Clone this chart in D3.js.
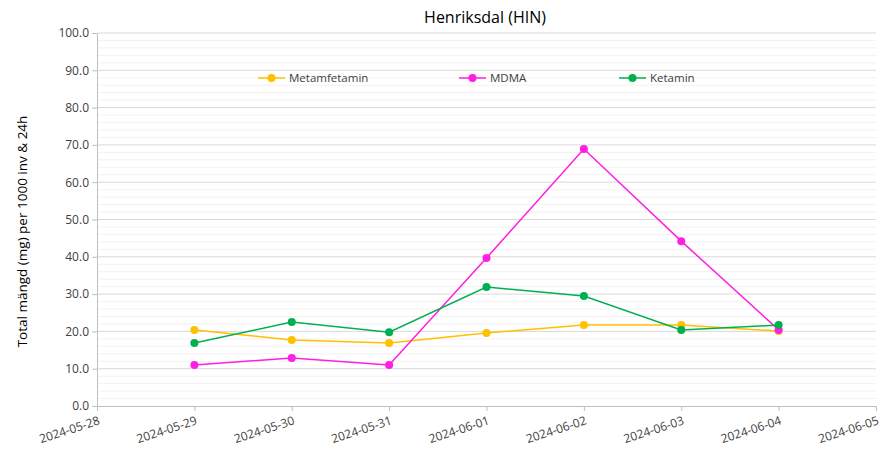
<!DOCTYPE html>
<html>
<head>
<meta charset="utf-8">
<script src="https://cdn.jsdelivr.net/npm/d3@7"></script>
<style>
  body { margin: 0; background: #fff; }
  svg { font-family: "Open Sans", Carlito, Lato, sans-serif; }
  .axis text { fill: #404040; font-size: 12px; font-family: "Open Sans", sans-serif; }
  .axis path, .axis line { stroke: #bfbfbf; }
</style>
</head>
<body>
<svg id="chart" width="890" height="452"></svg>
<script>
const DATES = ["2024-05-29", "2024-05-30", "2024-05-31", "2024-06-01", "2024-06-02", "2024-06-03", "2024-06-04"];
const X_TICKS = ["2024-05-28", "2024-05-29", "2024-05-30", "2024-05-31", "2024-06-01", "2024-06-02", "2024-06-03", "2024-06-04", "2024-06-05"];
const METAMFETAMIN = [20.4, 17.7, 16.9, 19.6, 21.7, 21.7, 20.1];
const MDMA = [11.0, 12.9, 11.0, 39.7, 68.9, 44.2, 20.4];
const KETAMIN = [16.9, 22.5, 19.8, 31.9, 29.5, 20.4, 21.7];

const SERIES = [
  { name: "Metamfetamin", values: METAMFETAMIN, color: "#ffc000" },
  { name: "MDMA", values: MDMA, color: "#ff1ee1" },
  { name: "Ketamin", values: KETAMIN, color: "#00b050" },
];

const config = {
  margin: { top: 33, right: 14, bottom: 46, left: 97 },
};
config.width = 890 - config.margin.left - config.margin.right;
config.height = 452 - config.margin.top - config.margin.bottom;

const parse = d3.utcParse("%Y-%m-%d");
const fmt = d3.utcFormat("%Y-%m-%d");

const root = d3.select("#chart");
const svg = root
  .append("g")
  .attr("transform", `translate(${config.margin.left}, ${config.margin.top})`);

// date scale (x-axis)
const xScale = d3
  .scaleUtc()
  .domain([parse(X_TICKS[0]), parse(X_TICKS[X_TICKS.length - 1])])
  .range([0, config.width]);

// amount scale (y-axis)
const yScale = d3.scaleLinear().domain([0, 100]).range([config.height, 0]);

// minor gridlines every 2
svg
  .append("g")
  .selectAll("line")
  .data(d3.range(0, 101, 2).filter((v) => v % 10 !== 0))
  .join("line")
  .attr("x1", 0)
  .attr("x2", config.width)
  .attr("y1", (d) => yScale(d))
  .attr("y2", (d) => yScale(d))
  .attr("stroke", "#f2f2f2")
  .attr("stroke-width", 1);

// major gridlines every 10
svg
  .append("g")
  .selectAll("line")
  .data(d3.range(10, 101, 10))
  .join("line")
  .attr("x1", 0)
  .attr("x2", config.width)
  .attr("y1", (d) => yScale(d))
  .attr("y2", (d) => yScale(d))
  .attr("stroke", "#d9d9d9")
  .attr("stroke-width", 1);

// y axis
svg
  .append("g")
  .attr("class", "axis axis-y")
  .call(
    d3
      .axisLeft(yScale)
      .tickValues(d3.range(0, 101, 10))
      .tickFormat(d3.format(".1f"))
      .tickSize(5)
      .tickSizeOuter(0)
  )
  .call((g) => g.selectAll("text").attr("x", -8));

// x axis
const xAxis = svg
  .append("g")
  .attr("class", "axis axis-x")
  .attr("transform", `translate(0, ${config.height})`)
  .call(
    d3
      .axisBottom(xScale)
      .tickValues(X_TICKS.map(parse))
      .tickFormat(fmt)
      .tickSize(5)
      .tickSizeOuter(0)
  );
xAxis
  .selectAll("text")
  .attr("text-anchor", "end")
  .attr("dy", null)
  .attr("y", 0)
  .attr("transform", "translate(3, 18) rotate(-18)");

// lines and markers
const line = d3
  .line()
  .x((d, i) => xScale(parse(DATES[i])))
  .y((d) => yScale(d));

SERIES.forEach((s) => {
  svg
    .append("path")
    .datum(s.values)
    .attr("fill", "none")
    .attr("stroke", s.color)
    .attr("stroke-width", 1.5)
    .attr("d", line);
});
SERIES.forEach((s) => {
  svg
    .append("g")
    .selectAll("circle")
    .data(s.values)
    .join("circle")
    .attr("cx", (d, i) => xScale(parse(DATES[i])))
    .attr("cy", (d) => yScale(d))
    .attr("r", 4)
    .attr("fill", s.color);
});

// legend
const legendX = [258, 459, 619];
const legend = root
  .append("g")
  .selectAll("g")
  .data(SERIES)
  .join("g")
  .attr("transform", (d, i) => `translate(${legendX[i]}, 78)`);
legend
  .append("line")
  .attr("x1", 0)
  .attr("x2", 27)
  .attr("stroke", (d) => d.color)
  .attr("stroke-width", 1.5);
legend
  .append("circle")
  .attr("cx", 13.5)
  .attr("r", 4)
  .attr("fill", (d) => d.color);
legend
  .append("text")
  .attr("x", 31)
  .attr("dy", "0.35em")
  .attr("font-size", 11.5)
  .attr("fill", "#404040")
  .text((d) => d.name);

// title
root
  .append("text")
  .attr("x", 485)
  .attr("y", 23)
  .attr("text-anchor", "middle")
  .attr("font-size", 16)
  .attr("fill", "#000")
  .text("Henriksdal (HIN)");

// y-axis label
root
  .append("text")
  .attr("transform", `translate(27, ${config.margin.top + config.height / 2 + 12}) rotate(-90)`)
  .attr("text-anchor", "middle")
  .attr("font-size", 13.5)
  .attr("fill", "#000")
  .text("Total mängd (mg) per 1000 inv & 24h");
</script>
</body>
</html>
